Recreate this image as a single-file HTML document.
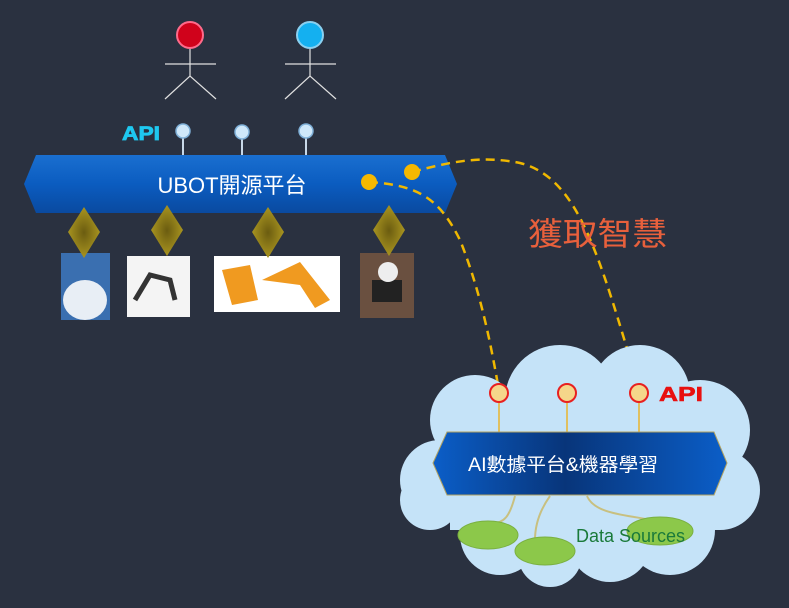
<!DOCTYPE html>
<html><head><meta charset="utf-8"><style>
html,body{margin:0;padding:0;background:#2a3140;}
svg{display:block}
text{font-family:"Liberation Sans","Noto Sans CJK TC",sans-serif}
</style></head><body>
<svg width="789" height="608" viewBox="0 0 789 608" xmlns="http://www.w3.org/2000/svg">
<defs>
<linearGradient id="bar" x1="0" y1="0" x2="0" y2="1">
<stop offset="0" stop-color="#1a6fd0"/><stop offset="0.5" stop-color="#0b5cc0"/><stop offset="1" stop-color="#0a4aa0"/></linearGradient>
<linearGradient id="bar2" x1="0" y1="0" x2="1" y2="0">
<stop offset="0" stop-color="#0b5ec8"/><stop offset="0.45" stop-color="#08357a"/><stop offset="1" stop-color="#0b5ec8"/></linearGradient>
<radialGradient id="dia"><stop offset="0" stop-color="#6b5c10"/><stop offset="1" stop-color="#a89420"/></radialGradient>
</defs>
<rect width="789" height="608" fill="#2a3140"/>
<g stroke="#e0e0e0" stroke-width="1.2" fill="none">
<line x1="190" y1="48" x2="190" y2="76"/><line x1="165" y1="64" x2="216" y2="64"/><polyline points="165,99 190,76 216,99"/>
<line x1="310" y1="48" x2="310" y2="76"/><line x1="285" y1="64" x2="336" y2="64"/><polyline points="285,99 310,76 336,99"/>
</g>
<circle cx="190" cy="35" r="13" fill="#d0021b" stroke="#ff6a8a" stroke-width="2"/>
<circle cx="310" cy="35" r="13" fill="#14b0f0" stroke="#8ad0f0" stroke-width="2"/>
<text x="122" y="140" font-size="19" font-weight="bold" fill="#1ec8f0" stroke="#1ec8f0" stroke-width="0.8" textLength="38" lengthAdjust="spacingAndGlyphs">API</text>
<g stroke="#c8d8e8" stroke-width="2"><line x1="183" y1="131" x2="183" y2="156"/><line x1="242" y1="132" x2="242" y2="156"/><line x1="306" y1="131" x2="306" y2="156"/></g>
<g fill="#cfe8fa" stroke="#7fb0d8" stroke-width="1.5"><circle cx="183" cy="131" r="7"/><circle cx="242" cy="132" r="7"/><circle cx="306" cy="131" r="7"/></g>
<polygon points="24,184 36,155 445,155 457,184 445,213 36,213" fill="url(#bar)"/>
<text x="232" y="193" font-size="22" fill="#fff" text-anchor="middle">UBOT開源平台</text>
<g stroke="#f0b800" stroke-width="2.5" fill="none" stroke-dasharray="9,6">
<path d="M412,172 C450,162 480,155 520,163 C580,178 600,260 638,385"/>
<path d="M369,182 C420,185 440,200 460,240 C480,290 490,340 498,385"/>
</g>
<circle cx="369" cy="182" r="8" fill="#f5b800"/>
<circle cx="412" cy="172" r="8" fill="#f5b800"/>
<rect x="61" y="253" width="49" height="67" fill="#3a6fb0"/><ellipse cx="85" cy="300" rx="22" ry="20" fill="#e8eef5"/>
<rect x="127" y="256" width="63" height="61" fill="#f4f4f4"/><path d="M135,300 L150,275 L170,280 L175,300" stroke="#333" stroke-width="5" fill="none"/>
<rect x="214" y="256" width="126" height="56" fill="#fff"/><path d="M222,270 L250,265 L258,300 L232,305Z M262,280 L300,262 L330,300 L315,308 L300,285Z" fill="#f09a20"/>
<rect x="360" y="253" width="54" height="65" fill="#6a5040"/><rect x="372" y="280" width="30" height="22" fill="#222"/><ellipse cx="388" cy="272" rx="10" ry="10" fill="#eee"/>
<g fill="url(#dia)">
<polygon points="84,207 100,232 84,258 68,232"/><polygon points="167,205 183,230 167,256 151,230"/>
<polygon points="268,207 284,232 268,258 252,232"/><polygon points="389,205 405,230 389,256 373,230"/>
</g>
<text x="528" y="245" font-size="32" fill="#e8603c" textLength="139" lengthAdjust="spacingAndGlyphs">獲取智慧</text>
<g fill="#c5e3f8">
<circle cx="475" cy="420" r="45"/><circle cx="560" cy="400" r="55"/><circle cx="640" cy="395" r="50"/><circle cx="700" cy="430" r="50"/>
<circle cx="720" cy="490" r="40"/><circle cx="670" cy="530" r="45"/><circle cx="610" cy="540" r="42"/><circle cx="500" cy="535" r="40"/>
<circle cx="440" cy="480" r="40"/><rect x="450" y="400" width="270" height="130"/><circle cx="550" cy="555" r="32"/><circle cx="430" cy="500" r="30"/>
</g>
<g stroke="#e0c060" stroke-width="2"><line x1="499" y1="393" x2="499" y2="432"/><line x1="567" y1="393" x2="567" y2="432"/><line x1="639" y1="393" x2="639" y2="432"/></g>
<g fill="#f5d68a" stroke="#e82020" stroke-width="2"><circle cx="499" cy="393" r="9"/><circle cx="567" cy="393" r="9"/><circle cx="639" cy="393" r="9"/></g>
<text x="659" y="401" font-size="20" font-weight="bold" fill="#e81010" stroke="#e81010" stroke-width="0.6" textLength="44" lengthAdjust="spacingAndGlyphs">API</text>
<g stroke="#c8c080" stroke-width="2" fill="none">
<path d="M515,496 C510,515 505,525 488,523"/><path d="M550,496 C540,510 535,525 535,540"/><path d="M587,496 C595,515 630,515 650,520"/>
</g>
<polygon points="433,463 447,432 714,432 727,463 714,495 447,495" fill="url(#bar2)" stroke="#b0a060" stroke-width="1"/>
<text x="468" y="471" font-size="19" fill="#fff" textLength="190" lengthAdjust="spacingAndGlyphs">AI數據平台&amp;機器學習</text>
<g fill="#8cc84a" stroke="#7ab040" stroke-width="1"><ellipse cx="488" cy="535" rx="30" ry="14"/><ellipse cx="545" cy="551" rx="30" ry="14"/><ellipse cx="660" cy="531" rx="33" ry="14"/></g>
<text x="576" y="542" font-size="18" fill="#1a7a3a">Data Sources</text>
</svg>
</body></html>
